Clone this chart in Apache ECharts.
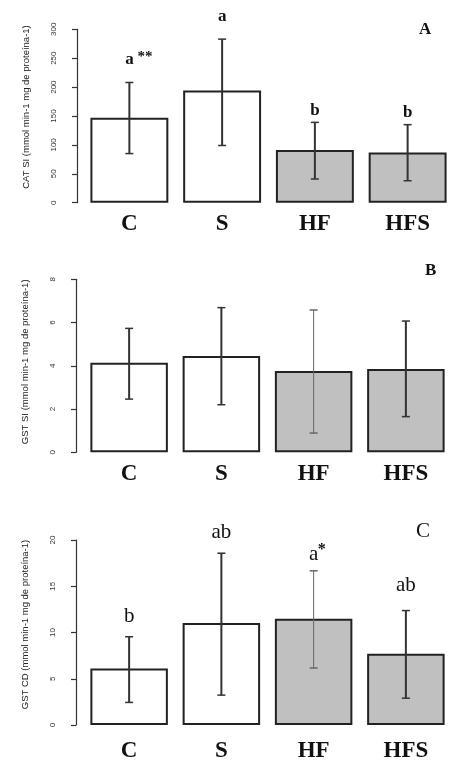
<!DOCTYPE html>
<html>
<head>
<meta charset="utf-8">
<script src="https://cdn.jsdelivr.net/npm/echarts@6/dist/echarts.min.js"></script>
<style>
html,body{margin:0;padding:0;background:#fff;}
#chart{width:454px;height:763px;}
</style>
</head>
<body>
<div id="chart"></div>
<script>
const categories = ['C', 'S', 'HF', 'HFS'];

// Panel A: CAT SI
const catMean = [147, 194, 91, 87];
const catLow = [85, 99, 41, 38];
const catHigh = [208, 283, 139, 135];
const catLetters = ['a', 'a', 'b', 'b'];
const catStars = ['**', '', '', ''];
const catLetterY = [240, 314, 152, 148];

// Panel B: GST SI
const gstSiMean = [4.14, 4.45, 3.76, 3.85];
const gstSiLow = [2.46, 2.2, 0.89, 1.65];
const gstSiHigh = [5.73, 6.69, 6.58, 6.07];

// Panel C: GST CD
const gstCdMean = [6.1, 11.04, 11.5, 7.71];
const gstCdLow = [2.44, 3.23, 6.16, 2.9];
const gstCdHigh = [9.54, 18.57, 16.67, 12.37];
const gstCdLetters = ['b', 'ab', 'a', 'ab'];
const gstCdStars = ['', '', '*', ''];
const gstCdLetterY = [11.0, 20.1, 17.7, 14.4];

const yTicksA = [0, 50, 100, 150, 200, 250, 300];
const yTicksB = [0, 2, 4, 6, 8];
const yTicksC = [0, 5, 10, 15, 20];

const yNames = [
  'CAT SI (mmol min-1 mg de proteína-1)',
  'GST SI (mmol min-1 mg de proteína-1)',
  'GST CD (mmol min-1 mg de proteína-1)'
];
const panelLabels = ['A', 'B', 'C'];

const SERIF = '"Liberation Serif","DejaVu Serif",serif';
const SANS = '"Liberation Sans",Arial,sans-serif';
const barFills = ['#ffffff', '#ffffff', '#c0c0c0', '#c0c0c0'];

const panels = [
  {mean: catMean, low: catLow, high: catHigh, letters: catLetters, stars: catStars, letterY: catLetterY,
   ticks: yTicksA, grid: {left: 83, width: 372, top: 29.3, height: 173.4}, yOffset: 6, catMargin: 10,
   letterFont: 'bold 17px ' + SERIF, starFont: 'bold 15px ' + SERIF, starDx: 8, starDy: -3, thin: [], namePad: 18},
  {mean: gstSiMean, low: gstSiLow, high: gstSiHigh, letters: null, stars: null, letterY: null,
   ticks: yTicksB, grid: {left: 83, width: 369, top: 279.3, height: 173}, yOffset: 7, catMargin: 10,
   thin: [2], namePad: 8},
  {mean: gstCdMean, low: gstCdLow, high: gstCdHigh, letters: gstCdLetters, stars: gstCdStars, letterY: gstCdLetterY,
   ticks: yTicksC, grid: {left: 83, width: 369, top: 540, height: 186}, yOffset: 7, catMargin: 15,
   letterFont: 'normal 21px ' + SERIF, starFont: 'bold 16px ' + SERIF, starDx: 4, starDy: -7, thin: [2], namePad: 16}
];

const grids = [], xAxes = [], yAxes = [], series = [];
panels.forEach((p, k) => {
  grids.push(p.grid);
  xAxes.push({
    type: 'category', gridIndex: k, data: categories,
    axisLine: {show: false}, axisTick: {show: false},
    axisLabel: {fontFamily: SERIF, fontWeight: 'bold', fontSize: 23, color: '#111', margin: p.catMargin}
  });
  const tmin = p.ticks[0], tmax = p.ticks[p.ticks.length - 1];
  yAxes.push({
    type: 'value', gridIndex: k, min: tmin, max: tmax, interval: p.ticks[1] - p.ticks[0],
    offset: p.yOffset,
    axisLine: {show: true, lineStyle: {color: '#333', width: 1.2}},
    axisTick: {show: true, length: 5, lineStyle: {color: '#333', width: 1.2}},
    splitLine: {show: false},
    axisLabel: {rotate: 90, fontFamily: SANS, fontSize: 8, color: '#333', margin: 19},
    name: yNames[k], nameLocation: 'middle', nameGap: 46,
    nameTextStyle: {fontFamily: SANS, fontSize: 9.5, color: '#222', padding: [0, 0, 0, p.namePad]}
  });
  series.push({
    type: 'bar', xAxisIndex: k, yAxisIndex: k, z: 2,
    barCategoryGap: '16%',
    data: p.mean.map((v, i) => ({value: v, itemStyle: {color: barFills[i]}})),
    itemStyle: {borderColor: '#222', borderWidth: 2},
    silent: true, animation: false
  });
  series.push({
    type: 'custom', xAxisIndex: k, yAxisIndex: k, z: 5, clip: false, silent: true, animation: false,
    data: categories.map((c, i) => [i, p.low[i], p.high[i], p.letterY ? p.letterY[i] : 0]),
    encode: {x: 0, y: [1, 2]},
    renderItem: function (params, api) {
      const i = params.dataIndex;
      const lo = api.coord([api.value(0), api.value(1)]);
      const hi = api.coord([api.value(0), api.value(2)]);
      const thin = p.thin.indexOf(i) >= 0;
      const lw = thin ? 1 : 2;
      const col = thin ? '#666' : '#333';
      const cw = 4;
      const children = [
        {type: 'line', shape: {x1: lo[0], y1: lo[1], x2: hi[0], y2: hi[1]}, style: {stroke: col, lineWidth: lw}},
        {type: 'line', shape: {x1: lo[0] - cw, y1: lo[1], x2: lo[0] + cw, y2: lo[1]}, style: {stroke: col, lineWidth: 1.5}},
        {type: 'line', shape: {x1: hi[0] - cw, y1: hi[1], x2: hi[0] + cw, y2: hi[1]}, style: {stroke: col, lineWidth: 1.5}}
      ];
      if (p.letters) {
        const lp = api.coord([api.value(0), api.value(3)]);
        children.push({type: 'text', style: {text: p.letters[i], x: lp[0], y: lp[1] + 4, align: 'center', verticalAlign: 'bottom', font: p.letterFont, fill: '#111'}});
        if (p.stars[i]) {
          children.push({type: 'text', style: {text: p.stars[i], x: lp[0] + p.starDx, y: lp[1] + 4 + p.starDy, align: 'left', verticalAlign: 'bottom', font: p.starFont, fill: '#111'}});
        }
      }
      return {type: 'group', children: children};
    }
  });
});

const chart = echarts.init(document.getElementById('chart'), null, {renderer: 'canvas'});
chart.setOption({
  backgroundColor: '#ffffff',
  animation: false,
  grid: grids, xAxis: xAxes, yAxis: yAxes, series: series,
  graphic: [
    {type: 'text', left: 419, top: 21, style: {text: panelLabels[0], font: 'bold 17px ' + SERIF, fill: '#111'}},
    {type: 'text', left: 425, top: 262, style: {text: panelLabels[1], font: 'bold 17px ' + SERIF, fill: '#111'}},
    {type: 'text', left: 416, top: 521, style: {text: panelLabels[2], font: 'normal 21px ' + SERIF, fill: '#111'}}
  ]
});
</script>
</body>
</html>
